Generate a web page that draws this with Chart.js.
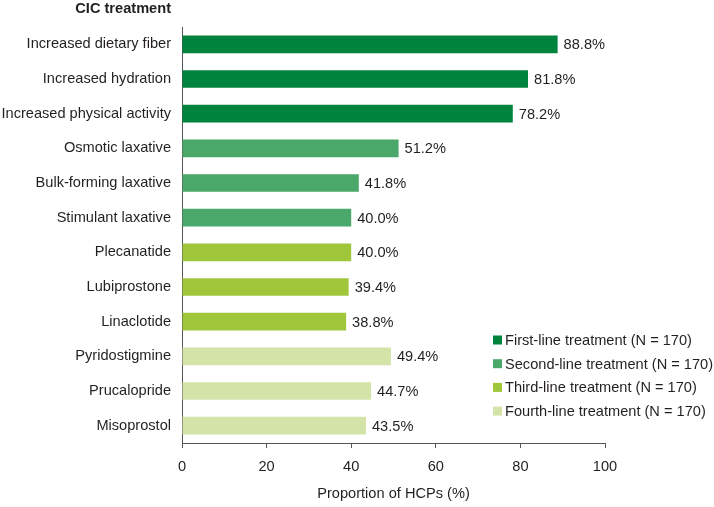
<!DOCTYPE html>
<html><head><meta charset="utf-8">
<script src="https://cdn.jsdelivr.net/npm/chart.js@4/dist/chart.umd.min.js"></script>
<style>html,body{margin:0;padding:0;background:#fff}#wrap{width:714px;height:507px}</style>
</head><body><div id="wrap"><canvas id="c" width="714" height="507"></canvas></div>
<script>
const categories = ["Increased dietary fiber","Increased hydration","Increased physical activity","Osmotic laxative","Bulk-forming laxative","Stimulant laxative","Plecanatide","Lubiprostone","Linaclotide","Pyridostigmine","Prucalopride","Misoprostol"];
const values = [88.8,81.8,78.2,51.2,41.8,40.0,40.0,39.4,38.8,49.4,44.7,43.5];
const lineOfTreatment = [0,0,0,1,1,1,2,2,2,3,3,3];
const legendLabels = ["First-line treatment (N = 170)","Second-line treatment (N = 170)","Third-line treatment (N = 170)","Fourth-line treatment (N = 170)"];
const lineColors = ["#00843d","#4aa96a","#a0c63c","#d4e4a8"];
const xTicks = [0,20,40,60,80,100];
const panelTitle = "CIC treatment";
const axisTitle = "Proportion of HCPs (%)";

const FONT = "'Liberation Sans', Arial, sans-serif";
const FS = 14.6;
const TXT = "#231f20";

const overlay = {
  id:'overlay',
  afterDatasetsDraw(chart){
    const ctx = chart.ctx;
    const meta = chart.getDatasetMeta(0);
    ctx.save();
    ctx.font = FS + "px " + FONT;
    ctx.fillStyle = TXT;
    ctx.textBaseline = 'middle';
    ctx.textAlign = 'left';
    meta.data.forEach((bar,i)=>{
      ctx.fillText(values[i].toFixed(1)+"%", bar.x+6, bar.y+1);
    });
    // title
    ctx.font = "bold " + FS + "px " + FONT;
    ctx.textAlign = 'right';
    ctx.fillText(panelTitle, 171, 9);
    // legend
    ctx.font = FS + "px " + FONT;
    ctx.textAlign = 'left';
    const y0 = 340, dy = 23.7;
    legendLabels.forEach((lab,i)=>{
      const y = y0 + i*dy;
      ctx.fillStyle = lineColors[i];
      ctx.fillRect(493, y-4.5, 9, 9);
      ctx.fillStyle = TXT;
      ctx.fillText(lab, 505, y+1);
    });
    ctx.restore();
  }
};

new Chart(document.getElementById('c'), {
  type:'bar',
  data:{
    labels:categories,
    datasets:[{
      data:values,
      backgroundColor:lineOfTreatment.map(k=>lineColors[k]),
      borderWidth:0,
      barPercentage:0.51,
      categoryPercentage:1.0
    }]
  },
  options:{
    indexAxis:'y',
    responsive:false,
    animation:false,
    devicePixelRatio:1,
    layout:{padding:{top:27,right:109,left:0,bottom:0}},
    plugins:{legend:{display:false},tooltip:{enabled:false}},
    scales:{
      x:{
        min:0,max:100,
        afterBuildTicks(s){ s.ticks = xTicks.map(v=>({value:v})); },
        afterFit(s){ s.height = 64; },
        grid:{drawOnChartArea:false,drawTicks:true,tickLength:5,color:'#555',lineWidth:1},
        border:{display:true,color:'#555',width:1},
        ticks:{font:{family:FONT,size:FS},color:TXT,padding:10,maxRotation:0},
        title:{display:true,text:axisTitle,font:{family:FONT,size:FS},color:TXT,padding:{top:6,bottom:4}}
      },
      y:{
        afterFit(s){ s.width = 182; },
        grid:{drawOnChartArea:false,drawTicks:false},
        border:{display:true,color:'#555',width:1},
        ticks:{font:{family:FONT,size:FS},color:TXT,padding:11}
      }
    }
  },
  plugins:[overlay]
});
</script></body></html>
